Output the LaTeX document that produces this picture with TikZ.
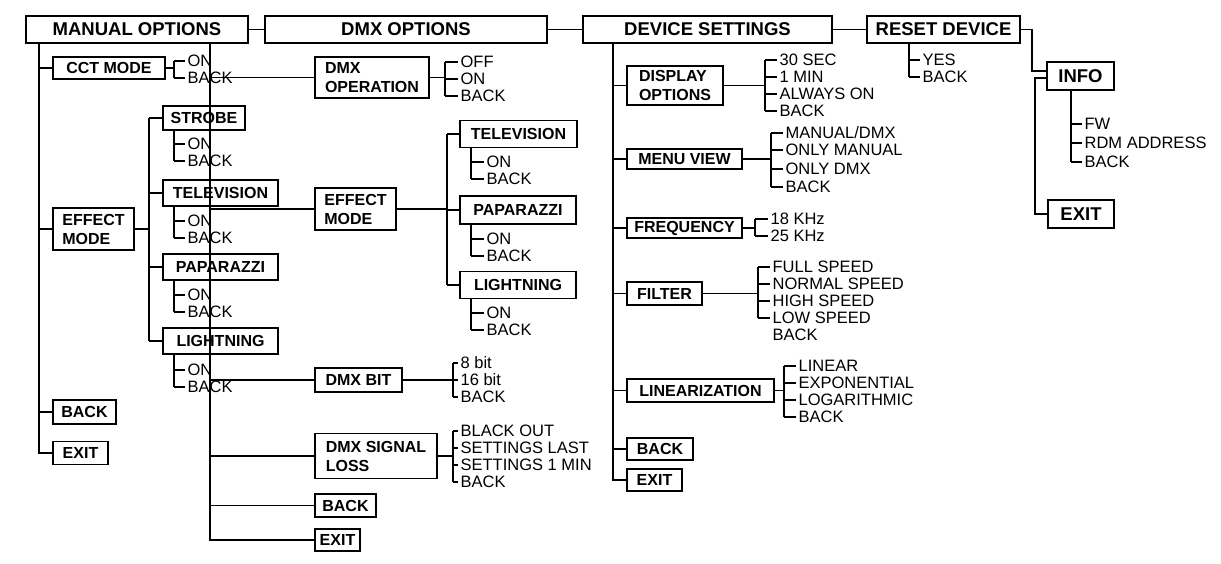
\documentclass[tikz,border=0pt]{standalone}
\usepackage{fontspec}
\setmainfont{Liberation Sans}
\begin{document}
\begin{tikzpicture}[x=1pt,y=-1pt,line width=1.2pt,
  txt/.style={anchor=west,inner sep=0pt,font=\fontsize{16.5}{18}\selectfont},
  top/.style={draw,inner sep=0pt,font=\fontsize{18.5}{20}\selectfont\bfseries},
  box/.style={draw,inner sep=0pt,align=left,font=\fontsize{16}{19}\selectfont\bfseries}]
\newcommand\olist[6]{%
  \draw (#2,#5) -- (#2,#6);
  \foreach \yy/\lab [count=\i] in {#4} {
    \node[txt] (#1\i) at (#3,\yy) {\lab};
    \draw (#2,\yy) -- ([xshift=-2pt]#1\i.west);
  }}
\useasboundingbox (0,0) rectangle (1221,563);
% top row
\node[top,minimum width=222,minimum height=27] (mo) at (137,29.5) {MANUAL OPTIONS};
\node[top,minimum width=282,minimum height=27] (dmx) at (406,29.5) {DMX OPTIONS};
\node[top,minimum width=249,minimum height=27] (ds) at (707.5,29.5) {DEVICE SETTINGS};
\node[top,minimum width=153,minimum height=27] (rd) at (943.5,29.5) {RESET DEVICE};
\draw (mo) -- (dmx); \draw (dmx) -- (ds); \draw (ds) -- (rd);
\coordinate (c1) at (39,0); \coordinate (c2) at (301,0); \coordinate (c3) at (613,0);

% ---- manual options
\node[box,minimum width=112,minimum height=22] (cct) at (109,68) {CCT MODE};
\node[box,minimum width=81,minimum height=42] (em1) at (93.5,229) {EFFECT\\MODE};
\node[box,minimum width=82,minimum height=24] (st1) at (204,118) {STROBE};
\node[box,minimum width=115,minimum height=26] (tv1) at (220.5,193) {TELEVISION};
\node[box,minimum width=115,minimum height=26] (pp1) at (220.5,267) {PAPARAZZI};
\node[box,minimum width=115,minimum height=26] (li1) at (220.5,341) {LIGHTNING};
\node[box,minimum width=63,minimum height=24] (bk1) at (84.5,412) {BACK};
\node[box,minimum width=55,minimum height=23] (ex1) at (80.5,453) {EXIT};
\draw (mo.south -| c1) |- (ex1.west);
\foreach \n in {cct,em1,bk1} \draw (c1 |- \n.west) -- (\n.west);
\draw (cct.east) -- (174,68);
\olist{a}{174}{187}{61/ON,78/BACK}{61}{78}
\coordinate (b1) at (149,0);
\draw (em1.east) -- (b1 |- em1.east);
\draw (b1 |- st1.west) -- (b1 |- li1.west);
\foreach \n in {st1,tv1,pp1,li1} \draw (b1 |- \n.west) -- (\n.west);
\olist{b}{174}{187}{144/ON,161/BACK}{129}{161}
\olist{c}{174}{187}{221/ON,238/BACK}{206}{238}
\olist{d}{174}{187}{295/ON,312/BACK}{280}{312}
\olist{e}{174}{187}{370/ON,387/BACK}{354}{387}

% ---- DMX options
\node[box,minimum width=114,minimum height=41] (op) at (372,77.5) {DMX\\OPERATION};
\node[box,minimum width=81,minimum height=42] (em2) at (355.5,209) {EFFECT\\MODE};
\node[box,minimum width=117,minimum height=27] (tv2) at (518.5,134) {TELEVISION};
\node[box,minimum width=116,minimum height=28] (pp2) at (518,210) {PAPARAZZI};
\node[box,minimum width=116,minimum height=27] (li2) at (518,285) {LIGHTNING};
\node[box,minimum width=87,minimum height=24] (bit) at (358.5,380) {DMX BIT};
\node[box,minimum width=122,minimum height=45] (sl) at (376,456) {DMX SIGNAL\\LOSS};
\node[box,minimum width=61,minimum height=23] (bk2) at (345.5,505.5) {BACK};
\node[box,minimum width=45,minimum height=22] (ex2) at (337.5,540) {EXIT};
\draw (dmx.south -| c2) |- (ex2.west);
\foreach \n in {op,em2,bit,sl,bk2} \draw (c2 |- \n.west) -- (\n.west);
\draw (op.east) -- (445,77.5);
\olist{f}{445}{460}{62/OFF,79/ON,96/BACK}{62}{96}
\coordinate (b2) at (447,0);
\draw (em2.east) -- (b2 |- em2.east);
\draw (b2 |- tv2.west) -- (b2 |- li2.west);
\foreach \n in {tv2,pp2,li2} \draw (b2 |- \n.west) -- (\n.west);
\olist{g}{471}{486}{162/ON,179/BACK}{147}{179}
\olist{h}{471}{486}{239/ON,256/BACK}{224}{256}
\olist{i}{471}{486}{313/ON,330/BACK}{298}{330}
\draw (bit.east) -- (453,380);
\olist{j}{453}{460}{363/8 bit,380/16 bit,397/BACK}{363}{397}
\draw (sl.east) -- (453,456);
\olist{k}{453}{460}{431/BLACK OUT,448/SETTINGS LAST,465/SETTINGS 1 MIN,482/BACK}{431}{482}

% ---- device settings
\node[box,minimum width=96,minimum height=39] (dop) at (675,85.5) {DISPLAY\\OPTIONS};
\node[box,minimum width=115,minimum height=20] (mv) at (684.5,159) {MENU VIEW};
\node[box,minimum width=115,minimum height=20] (fq) at (684.5,228) {FREQUENCY};
\node[box,minimum width=75,minimum height=23] (fi) at (664.5,293.5) {FILTER};
\node[box,minimum width=147,minimum height=23] (lin) at (700.5,390.5) {LINEARIZATION};
\node[box,minimum width=66,minimum height=22] (bk3) at (660,449) {BACK};
\node[box,minimum width=55,minimum height=22] (ex3) at (654.5,480) {EXIT};
\draw (ds.south -| c3) |- (ex3.west);
\foreach \n in {dop,mv,fq,fi,lin,bk3} \draw (c3 |- \n.west) -- (\n.west);
\draw (dop.east) -- (765,85.5);
\olist{l}{765}{779}{60/30 SEC,77/1 MIN,94/ALWAYS ON,111/BACK}{60}{111}
\draw (mv.east) -- (771,159);
\olist{m}{771}{785}{133/{MANUAL/DMX},150/ONLY MANUAL,169/ONLY DMX,187/BACK}{133}{187}
\draw (fq.east) -- (755,228);
\olist{n}{755}{770}{219/18 KHz,236/25 KHz}{219}{236}
\draw (fi.east) -- (758,293.5);
\olist{o}{758}{772}{267/FULL SPEED,284/NORMAL SPEED,301/HIGH SPEED,318/LOW SPEED}{267}{318}
\node[txt] (o5) at (772,335) {BACK};
\draw (lin.east) -- (784,390.5);
\olist{p}{784}{798}{366/LINEAR,383/EXPONENTIAL,400/LOGARITHMIC,417/BACK}{366}{417}

% ---- reset device
\coordinate (c4) at (909,0);
\olist{q}{909}{922}{60/YES,77/BACK}{43}{77}
\node[box,minimum width=67,minimum height=28,font=\fontsize{18.5}{20}\selectfont\bfseries] (info) at (1080.5,76) {INFO};
\node[box,minimum width=66,minimum height=28,font=\fontsize{18.5}{20}\selectfont\bfseries] (ex4) at (1081,214) {EXIT};
\coordinate (c5) at (1032,0); \coordinate (c6) at (1035,0);
\draw (rd.east) -| (c5 |- 0,71) -- (info.west |- 0,71);
\draw (info.west |- 0,78) -| (c6 |- ex4.west) -- (ex4.west);
\olist{r}{1071}{1084}{124/FW,143/RDM ADDRESS,162/BACK}{90}{162}
\end{tikzpicture}
\end{document}
